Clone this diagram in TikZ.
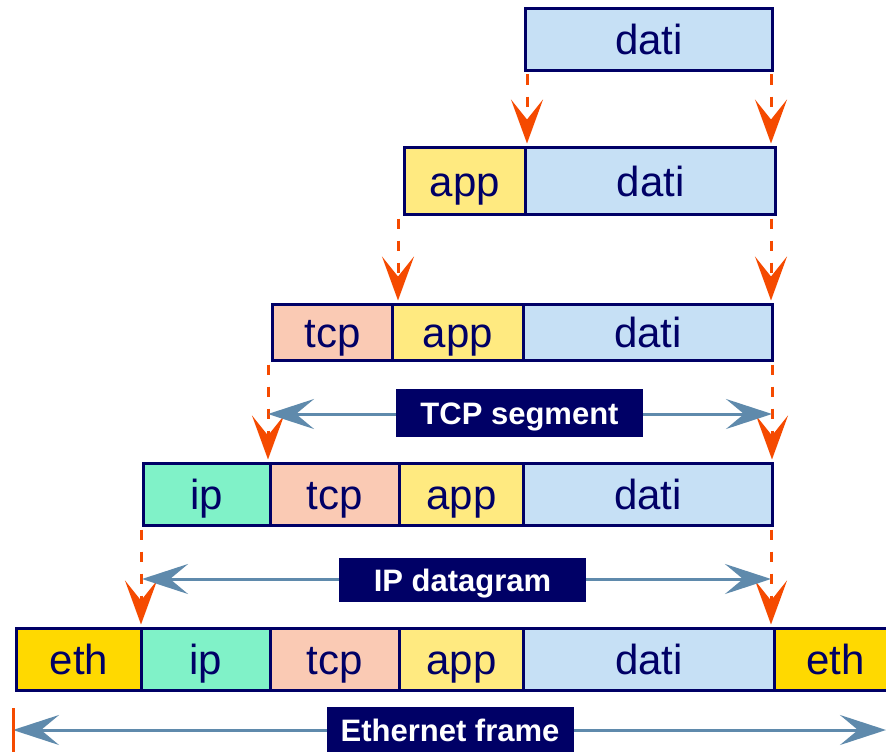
\documentclass[tikz,border=0pt]{standalone}
\usepackage{fontspec}
\setmainfont{Liberation Sans}
\usetikzlibrary{arrows.meta}
\definecolor{navy}{RGB}{0,0,102}
\definecolor{datic}{RGB}{198,224,245}
\definecolor{appc}{RGB}{255,234,128}
\definecolor{tcpc}{RGB}{250,202,180}
\definecolor{ipc}{RGB}{128,242,200}
\definecolor{ethc}{RGB}{255,217,0}
\definecolor{oarr}{RGB}{245,74,0}
\definecolor{barr}{RGB}{95,138,172}
\begin{document}
\begin{tikzpicture}[x=1pt,y=-1pt,
  cell/.style={draw=navy, line width=3pt, inner sep=0pt, outer sep=0pt, anchor=north west,
    text=navy, font=\fontsize{42}{42}\selectfont, text height=30pt, text depth=0pt},
  lbl/.style={fill=navy, text=white, inner sep=0pt, outer sep=0pt,
    font=\bfseries\fontsize{31}{31}\selectfont, text height=22.5pt, text depth=0pt,
    minimum width=247pt},
  odash/.style={draw=oarr, line width=3pt, dash pattern=on 10pt off 12pt,
    -{Stealth[length=44pt, width=32pt, inset=20pt]}, shorten <=4pt, shorten >=4pt},
  barrow/.style={draw=barr, line width=3pt,
    {Stealth[length=46pt, width=30pt, inset=18pt]}-{Stealth[length=46pt, width=30pt, inset=18pt]}}
]
\clip (0,0) rectangle (886,752);
\fill[white] (0,0) rectangle (886,752);

% row 1
\node[cell, fill=datic, minimum width=247pt, minimum height=62pt] (d1) at (525.5,8.5) {dati};
% row 2
\node[cell, fill=appc, minimum width=121pt, minimum height=67pt] (a2) at (404.5,147.5) {app};
\node[cell, fill=datic, minimum width=250pt, minimum height=67pt] (d2) at (525.5,147.5) {dati};
% row 3
\node[cell, fill=tcpc, minimum width=120pt, minimum height=56pt] (t3) at (272.5,304.5) {tcp};
\node[cell, fill=appc, minimum width=131pt, minimum height=56pt] (a3) at (392.5,304.5) {app};
\node[cell, fill=datic, minimum width=249pt, minimum height=56pt] (d3) at (523.5,304.5) {dati};
% row 4
\node[cell, fill=ipc, minimum width=127pt, minimum height=62pt] (i4) at (143.5,463.5) {ip};
\node[cell, fill=tcpc, minimum width=129pt, minimum height=62pt] (t4) at (270.5,463.5) {tcp};
\node[cell, fill=appc, minimum width=124pt, minimum height=62pt] (a4) at (399.5,463.5) {app};
\node[cell, fill=datic, minimum width=249pt, minimum height=62pt] (d4) at (523.5,463.5) {dati};
% row 5
\node[cell, fill=ethc, minimum width=125pt, minimum height=62pt] (e5) at (16.5,628.5) {eth};
\node[cell, fill=ipc, minimum width=129pt, minimum height=62pt] (i5) at (141.5,628.5) {ip};
\node[cell, fill=tcpc, minimum width=129pt, minimum height=62pt] (t5) at (270.5,628.5) {tcp};
\node[cell, fill=appc, minimum width=124pt, minimum height=62pt] (a5) at (399.5,628.5) {app};
\node[cell, fill=datic, minimum width=251pt, minimum height=62pt] (d5) at (523.5,628.5) {dati};
\node[cell, fill=ethc, minimum width=124pt, minimum height=62pt, text width=124pt, align=left] (f5) at (774.5,628.5) {\hspace{32pt}eth};

% orange dashed arrows
\coordinate (o1a) at (527,70.5);  \coordinate (o1b) at (o1a |- d2.north);
\coordinate (o1c) at (771,70.5);  \coordinate (o1d) at (o1c |- d2.north);
\coordinate (o2a) at (398,214.5); \coordinate (o2b) at (o2a |- a3.north);
\coordinate (o2c) at (771,214.5); \coordinate (o2d) at (o2c |- d3.north);
\coordinate (o3a) at (268,360.5); \coordinate (o3b) at (o3a |- t4.north);
\coordinate (o3c) at (772,360.5); \coordinate (o3d) at (o3c |- d4.north);
\coordinate (o4a) at (141,525.5); \coordinate (o4b) at (o4a |- i5.north);
\coordinate (o4c) at (771,525.5); \coordinate (o4d) at (o4c |- d5.north);
\draw[odash] (o1a) -- (o1b);
\draw[odash] (o1c) -- (o1d);
\draw[odash] (o2a) -- (o2b);
\draw[odash] (o2c) -- (o2d);
\draw[odash] (o3a) -- (o3b);
\draw[odash] (o3c) -- (o3d);
\draw[odash] (o4a) -- (o4b);
\draw[odash] (o4c) -- (o4d);

% blue span arrows
\coordinate (tL) at (268,414); \coordinate (tR) at (772,414);
\coordinate (iL) at (142,579); \coordinate (iR) at (771,579);
\coordinate (eL) at (13,730);  \coordinate (eR) at (886,730);
\draw[barrow] (tL) -- (tR);
\draw[barrow] (iL) -- (iR);
\draw[barrow] (eL) -- (eR);
\draw[draw=oarr, line width=3pt] (13,708) -- (13,752);

% labels
\node[lbl, minimum height=48pt] (ltcp) at (519.5,413) {TCP segment};
\node[lbl, minimum height=44pt] (lip) at (462.5,580) {IP datagram};
\node[lbl, minimum height=46pt] (leth) at (450,730) {Ethernet frame};
\end{tikzpicture}
\end{document}
